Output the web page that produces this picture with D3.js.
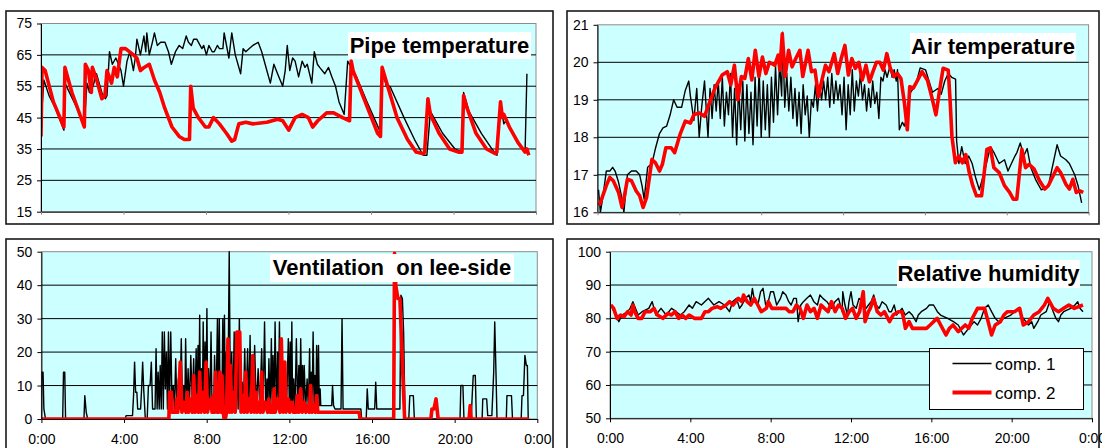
<!DOCTYPE html>
<html><head><meta charset="utf-8">
<script src="https://cdn.jsdelivr.net/npm/d3@7"></script>
<style>
html,body{margin:0;padding:0;background:#fff;}
svg{display:block;font-family:Arial,"Liberation Sans",sans-serif;}
</style></head>
<body><svg id="c" width="1102" height="448"></svg>
<script>
// ---------- data (hour of day, value) ----------
const hourTicks = [0,4,8,12,16,20,24];
const hourLabels = ["0:00","4:00","8:00","12:00","16:00","20:00","0:00"];
const pipeTicks = [15,25,35,45,55,65,75];
const airTicks = [16,17,18,19,20,21];
const ventTicks = [0,10,20,30,40,50];
const rhTicks = [50,60,70,80,90,100];
const seriesNames = ["comp. 1","comp. 2"];
const titles = ["Pipe temperature","Air temperature","Ventilation  on lee-side","Relative humidity"];

const pipeC1 = [[0.05,48],[0.14,57],[0.39,52],[0.7,48],[1.11,41],[1.16,56],[1.6,50],[2.1,43],[2.23,56],[2.35,53],[2.52,55],[2.69,59],[2.95,53],[3.12,51],[3.2,52],[3.32,66],[3.46,62],[3.63,64],[3.88,60],[4.0,55],[4.17,63],[4.31,66],[4.48,60],[4.57,64],[4.65,70],[4.82,65],[4.99,71],[5.08,66],[5.13,72],[5.25,65],[5.4,69],[5.5,72],[5.64,68],[5.8,69],[6.01,69],[6.18,66],[6.32,62],[6.52,66],[6.7,68],[6.87,67],[7.04,71],[7.15,69],[7.29,68],[7.4,70],[7.55,70],[7.8,67],[7.89,68],[8.02,65],[8.14,68],[8.3,66],[8.4,66],[8.55,68],[8.65,67],[8.82,67],[8.88,72],[9.11,64],[9.25,72],[9.42,65],[9.68,59],[9.8,67],[9.93,66],[10.1,67],[10.27,68],[10.53,69],[10.7,66],[10.95,60],[11.12,56],[11.29,62],[11.47,59],[11.72,55],[11.84,60],[11.94,68],[12.06,60],[12.2,64],[12.32,63],[12.49,58],[12.66,63],[12.8,61],[12.91,62],[13.13,56],[13.25,66],[13.4,62],[13.51,61],[13.76,59],[13.94,61],[14.1,58],[14.28,55],[14.45,50],[14.7,46],[14.87,63],[15.04,61],[15.3,58],[15.81,50],[16.41,41],[16.58,59],[16.75,55],[16.92,55],[17.6,45],[18.11,38],[18.53,33],[18.71,33],[18.88,47],[19.05,45],[19.47,40],[20.07,35],[20.41,34],[20.49,53],[20.75,47],[20.92,45],[21.35,40],[21.86,35],[22.11,33],[22.28,49],[22.44,43],[22.54,44],[22.88,40],[23.22,36],[23.47,34],[23.56,59]];

const pipeC2 = [[0,39],[0.05,61],[0.2,60],[0.6,50],[1.11,42],[1.16,61],[1.5,53],[2.1,42],[2.15,62],[2.3,60],[2.44,53],[2.49,61],[2.7,57],[2.95,51],[3.1,52],[3.2,60],[3.42,56],[3.55,61],[3.7,58],[3.88,67],[4.1,67],[4.48,65],[4.65,64],[4.82,60],[5.0,61],[5.25,62],[5.5,57],[5.76,53],[6.0,48],[6.35,42],[6.7,39],[6.95,38],[7.2,38],[7.26,55],[7.38,48],[7.63,45],[7.97,42],[8.14,42],[8.36,45],[8.65,43],[8.99,40],[9.25,37.5],[9.39,38],[9.59,43],[9.93,43.5],[10.27,43],[10.95,43.5],[11.47,44.5],[11.72,44],[12.01,41],[12.32,45],[12.66,46],[12.96,45],[13.17,42],[13.42,44],[13.85,46.5],[14.19,46.5],[14.62,45],[14.96,44],[15.04,63],[15.13,60],[15.72,50],[16.32,40],[16.46,39],[16.54,61],[17.26,45],[17.77,38],[18.19,34],[18.53,33.5],[18.6,34],[18.76,51],[18.88,46],[19.3,40],[19.81,35],[20.24,34],[20.41,34],[20.49,52],[20.66,48],[21.09,40],[21.6,35],[22.03,33.5],[22.1,34],[22.28,50],[22.37,45],[22.44,46],[22.71,42],[23.13,37],[23.47,34],[23.56,35],[23.65,33]];

const airC1 = [[0.05,16.6],[0.14,16.0],[0.26,16.4],[0.43,17.1],[0.6,17.1],[0.74,17.2],[0.86,17.1],[1.03,16.8],[1.2,16.35],[1.29,16.0],[1.46,17.0],[1.66,17.1],[1.89,17.1],[2.06,17.0],[2.18,16.7],[2.28,16.35],[2.45,17.2],[2.66,17.3],[2.83,17.7],[3.03,18.1],[3.2,18.25],[3.38,18.3],[3.55,18.6],[3.72,19.0],[3.89,18.8],[4.11,18.8],[4.29,19.25],[4.46,19.5],[4.54,19.1],[4.71,18.45],[4.85,19.3],[4.97,18.0],[5.09,18.8],[5.23,19.5],[5.4,18.0],[5.5,19.3],[5.6,18.5],[5.7,19.4],[5.8,18.7],[5.9,19.5],[6.0,18.5],[6.1,19.6],[6.2,18.3],[6.3,19.2],[6.4,18.6],[6.5,19.7],[6.6,18.0],[6.7,19.3],[6.8,17.8],[6.9,19.4],[7.0,18.2],[7.1,19.5],[7.2,17.9],[7.3,19.4],[7.4,18.1],[7.5,19.2],[7.6,17.8],[7.7,19.6],[7.8,18.3],[7.9,19.8],[8.0,18.0],[8.1,19.5],[8.2,18.2],[8.3,19.4],[8.4,18.0],[8.5,19.6],[8.6,18.4],[8.7,19.9],[8.8,18.6],[8.9,20.0],[9.0,19.1],[9.05,20.8],[9.15,18.8],[9.25,19.7],[9.35,18.7],[9.45,19.6],[9.55,18.5],[9.65,19.3],[9.75,18.3],[9.85,19.2],[9.95,18.1],[10.05,19.4],[10.15,18.6],[10.25,19.1],[10.35,18.0],[10.45,19.0],[10.55,18.8],[10.65,19.4],[10.75,18.7],[10.85,19.4],[10.95,19.0],[11.05,19.5],[11.15,19.0],[11.25,19.6],[11.35,18.8],[11.45,19.7],[11.55,18.9],[11.65,19.5],[11.75,19.0],[11.85,19.4],[11.95,18.6],[12.05,19.6],[12.15,18.2],[12.25,19.4],[12.35,18.6],[12.45,19.8],[12.55,18.7],[12.65,19.5],[12.75,19.1],[12.85,19.7],[12.95,19.0],[13.05,19.4],[13.15,18.7],[13.25,19.3],[13.35,18.8],[13.45,19.5],[13.55,18.9],[13.65,19.2],[13.75,18.5],[13.85,19.6],[13.95,19.5],[14.05,19.8],[14.15,19.6],[14.3,19.9],[14.4,19.6],[14.5,19.8],[14.6,19.5],[14.66,19.8],[14.75,18.2],[14.9,18.4],[15.0,18.3],[15.1,18.5],[15.3,19.2],[15.43,19.3],[15.6,19.5],[15.77,19.85],[16.03,19.8],[16.2,19.5],[16.37,19.2],[16.63,19.3],[16.8,19.15],[16.97,19.5],[17.14,19.7],[17.31,19.6],[17.5,19.55],[17.55,17.9],[17.66,17.3],[17.8,17.75],[17.97,17.3],[18.14,17.5],[18.31,17.3],[18.49,16.9],[18.66,16.6],[18.92,17.1],[19.2,17.75],[19.37,17.6],[19.63,17.3],[19.89,17.4],[20.06,17.1],[20.4,17.5],[20.5,17.6],[20.66,17.85],[20.83,17.5],[21.0,17.7],[21.17,17.2],[21.43,16.85],[21.69,16.6],[22.03,16.7],[22.46,17.8],[22.63,17.5],[22.89,17.4],[23.06,17.3],[23.32,17.0],[23.49,16.7],[23.66,16.25]];

const airC2 = [[0.09,16.18],[0.43,16.71],[0.6,16.93],[0.77,16.84],[1.03,16.53],[1.2,16.13],[1.29,16.35],[1.46,16.88],[1.66,16.84],[1.89,16.57],[2.06,16.44],[2.23,16.13],[2.4,16.4],[2.66,17.41],[2.83,17.32],[3.03,17.1],[3.17,17.28],[3.34,17.72],[3.6,17.72],[3.77,17.59],[4.03,18.07],[4.29,18.43],[4.54,18.38],[4.71,18.6],[4.97,18.65],[5.23,18.56],[5.4,18.82],[5.74,19.31],[6.09,19.66],[6.34,19.75],[6.51,19.4],[6.69,19.92],[6.86,19.0],[7.03,19.62],[7.2,19.57],[7.37,20.1],[7.54,19.53],[7.71,20.32],[7.89,19.62],[8.06,20.14],[8.23,19.7],[8.4,20.0],[8.66,19.92],[8.83,20.19],[8.91,19.79],[9.03,20.76],[9.17,19.62],[9.34,20.32],[9.51,19.88],[9.69,20.1],[9.89,20.32],[10.03,19.62],[10.29,20.32],[10.46,19.75],[10.63,19.79],[10.8,19.09],[10.97,19.53],[11.14,19.92],[11.31,19.75],[11.57,20.23],[11.74,19.7],[11.91,20.1],[12.09,20.45],[12.26,19.66],[12.43,20.1],[12.6,19.84],[12.77,20.0],[12.94,19.53],[13.12,19.92],[13.29,19.48],[13.46,19.75],[13.63,20.0],[13.8,20.0],[13.97,19.79],[14.14,20.23],[14.31,19.84],[14.49,19.62],[14.66,19.7],[14.83,19.57],[15.0,18.91],[15.14,18.2],[15.26,19.35],[15.43,19.31],[15.6,19.48],[15.86,19.75],[16.12,19.53],[16.37,19.0],[16.54,18.6],[16.72,19.26],[16.89,19.84],[17.14,19.79],[17.23,19.0],[17.32,18.03],[17.49,17.32],[17.66,17.5],[17.83,17.32],[18.0,17.54],[18.17,17.06],[18.34,16.71],[18.52,16.44],[18.77,16.44],[19.03,17.68],[19.2,17.72],[19.37,17.19],[19.63,17.06],[19.89,16.71],[20.14,16.53],[20.32,16.35],[20.49,16.35],[20.74,17.68],[20.92,17.19],[21.09,17.28],[21.34,17.15],[21.6,16.84],[21.86,16.62],[22.03,16.71],[22.46,17.19],[22.63,17.06],[22.89,16.75],[23.06,16.62],[23.23,16.88],[23.4,16.53],[23.57,16.57],[23.74,16.53]];

const ventC1 = [[0,0],[0.02,14],[0.08,14],[0.12,3],[0.2,0],[1.03,0],[1.07,14],[1.13,14],[1.17,0],[2.06,0],[2.1,7],[2.17,2],[2.24,0],[4.06,0],[4.1,1],[4.41,1],[4.46,7],[4.51,17],[4.56,8],[4.62,8],[4.66,3],[4.8,3],[4.85,9],[4.9,17],[4.95,9],[5.03,0],[5.12,0],[5.18,10],[5.26,10],[5.32,17],[5.38,3],[5.5,3],[5.55,21],[5.6,3],[5.65,14],[5.7,3],[5.75,16],[5.8,3],[5.85,26],[5.9,3],[5.95,26],[6.0,9],[6.05,20],[6.1,3],[6.15,26],[6.2,3],[6.26,26],[6.32,5],[6.38,10],[6.44,3],[6.5,18],[6.56,3],[6.63,12],[6.7,3],[6.77,24],[6.83,3],[6.89,10],[6.94,3],[6.98,24],[7.04,3],[7.1,15],[7.16,3],[7.23,19],[7.3,5],[7.37,18],[7.43,3],[7.49,21],[7.53,3],[7.58,22],[7.62,5],[7.66,31],[7.7,3],[7.75,15],[7.79,3],[7.83,29],[7.88,3],[7.92,23],[7.96,3],[8.01,33],[8.05,5],[8.09,15],[8.15,3],[8.21,26],[8.26,3],[8.31,5],[8.34,3],[8.38,19],[8.45,3],[8.52,30],[8.56,3],[8.61,30],[8.65,3],[8.69,10],[8.73,3],[8.78,30],[8.82,3],[8.86,31],[8.9,3],[8.95,20],[9.02,3],[9.09,50],[9.15,3],[9.21,20],[9.27,3],[9.33,26],[9.4,3],[9.46,21],[9.52,3],[9.58,30],[9.65,3],[9.72,11],[9.78,3],[9.84,21],[9.9,3],[9.98,21],[10.04,3],[10.1,25],[10.14,3],[10.18,14],[10.25,3],[10.32,22],[10.4,3],[10.49,15],[10.57,3],[10.66,21],[10.73,3],[10.8,29],[10.86,3],[10.92,12],[10.96,3],[11.01,18],[11.07,3],[11.13,24],[11.17,3],[11.21,19],[11.26,3],[11.31,29],[11.37,3],[11.43,20],[11.47,3],[11.52,29],[11.58,3],[11.64,22],[11.7,3],[11.78,14],[11.86,3],[11.95,24],[12.0,3],[12.04,23],[12.08,3],[12.12,29],[12.16,3],[12.21,12],[12.27,3],[12.34,24],[12.4,3],[12.46,16],[12.5,3],[12.55,24],[12.6,3],[12.64,16],[12.68,3],[12.72,16],[12.79,3],[12.86,12],[12.92,3],[12.98,21],[13.02,3],[13.06,14],[13.1,3],[13.15,26],[13.2,3],[13.24,13],[13.28,3],[13.32,22],[13.36,3],[13.41,22],[13.45,4],[13.49,9],[13.52,4],[14.05,4],[14.09,10],[14.14,4],[14.21,3],[14.5,3],[14.55,30],[14.6,3],[15.46,3],[15.5,0],[15.72,0],[15.77,9],[15.82,3],[16.13,3],[16.18,11],[16.23,3],[17.35,3],[17.4,37],[17.47,36],[17.53,26],[17.6,0],[17.78,0],[17.83,7],[18.0,7],[18.05,0],[20.26,0],[20.3,10],[20.4,10],[20.45,0],[20.8,0],[20.85,7],[20.9,13],[21.0,13],[21.05,0],[21.33,0],[21.36,6],[21.55,6],[21.6,1],[21.8,1],[21.89,14],[21.94,29],[22.0,14],[22.05,0],[22.5,0],[22.53,7],[22.75,7],[22.8,0],[23.22,0],[23.26,7],[23.33,7],[23.4,19],[23.47,16],[23.52,16],[23.56,0]];

const ventC2 = [[0,0],[6.17,0],[6.2,8],[6.29,8],[6.33,2],[6.5,2],[6.55,6],[6.6,2],[6.72,17],[6.8,2],[6.9,5],[7.0,2],[7.06,8],[7.12,2],[7.2,6],[7.3,2],[7.37,13],[7.44,2],[7.52,7],[7.6,2],[7.66,14],[7.72,2],[7.8,8],[7.9,2],[7.97,17],[8.04,2],[8.12,5],[8.2,6],[8.26,2],[8.32,7],[8.38,2],[8.43,14],[8.5,2],[8.58,2],[8.64,14],[8.7,2],[8.74,13],[8.8,2],[8.84,0],[8.9,0],[8.96,2],[9.03,24],[9.1,2],[9.15,16],[9.21,2],[9.3,8],[9.38,2],[9.46,26],[9.6,26],[9.66,2],[9.74,7],[9.82,2],[9.89,14],[9.96,2],[10.05,6],[10.15,2],[10.23,19],[10.3,2],[10.38,8],[10.45,2],[10.52,5],[10.6,2],[10.66,14],[10.72,2],[10.82,5],[10.95,2],[11.01,6],[11.08,2],[11.15,4],[11.2,2],[11.26,9],[11.32,2],[11.42,6],[11.55,2],[11.61,24],[11.7,2],[11.78,17],[11.84,2],[11.95,6],[12.02,2],[12.12,5],[12.2,2],[12.32,2],[12.38,7],[12.45,2],[12.55,9],[12.62,2],[12.72,5],[12.8,2],[12.88,4],[12.97,2],[13.03,10],[13.1,2],[13.2,4],[13.26,2],[13.32,7],[13.38,2],[15.38,2],[15.42,0],[17.05,0],[17.09,49.5],[17.15,40],[17.25,36],[17.35,36],[17.45,20],[17.58,0],[18.85,0],[18.9,3],[19.0,3],[19.1,6],[19.2,0],[20.7,0],[20.75,4],[20.8,0],[23.61,0]];

const rhC1 = [[0.04,84],[0.2,82],[0.35,80],[0.44,79],[0.6,81],[0.88,82],[1.0,83],[1.14,85],[1.4,81],[1.6,82],[1.93,83],[2.1,85],[2.28,81],[2.54,83],[2.8,81],[3.06,83],[3.3,82],[3.5,81],[3.7,82],[3.94,84],[4.1,83],[4.29,85],[4.55,84],[4.9,86],[5.17,84],[5.43,85],[5.7,84],[5.95,82],[6.1,85],[6.3,86],[6.45,83],[6.57,84],[6.75,86],[6.92,87],[7.0,85],[7.09,89],[7.2,85],[7.36,84],[7.5,88],[7.62,89],[7.75,84],[7.88,85],[8.0,88],[8.14,88],[8.3,84],[8.49,86],[8.6,88],[8.76,87],[8.9,85],[9.02,84],[9.15,86],[9.28,86],[9.37,79],[9.5,84],[9.63,85],[9.8,86],[9.98,87],[10.15,85],[10.33,84],[10.45,87],[10.6,86],[10.8,85],[11.03,83],[11.2,85],[11.38,86],[11.56,82],[11.59,88],[11.7,84],[11.82,81],[11.9,85],[12.0,88],[12.1,84],[12.26,83],[12.4,86],[12.61,85],[12.75,83],[12.87,84],[13.0,85],[13.13,87],[13.25,84],[13.4,83],[13.55,85],[13.75,84],[13.9,82],[14.01,82],[14.15,84],[14.27,81],[14.4,82],[14.54,83],[14.7,81],[14.89,82],[15.05,81],[15.24,79],[15.35,81],[15.5,82],[15.76,83],[15.9,84],[16.11,84],[16.3,82],[16.46,81],[16.81,80],[17.1,79],[17.34,78],[17.6,75],[17.86,77],[18.13,79],[18.3,78],[18.48,80],[18.65,83],[18.83,84],[19.0,82],[19.18,80],[19.35,79],[19.61,80],[19.96,81],[20.15,82],[20.32,83],[20.45,81],[20.58,80],[20.84,78],[21.0,79],[21.1,77],[21.3,79],[21.45,81],[21.72,82],[21.89,85],[22.07,82],[22.2,80],[22.33,79],[22.45,81],[22.59,82],[22.94,83],[23.15,84],[23.29,85],[23.4,83],[23.55,82]];

const rhC2 = [[0.04,84],[0.18,83],[0.35,80],[0.53,81],[0.7,80.5],[0.88,82],[1.05,81],[1.14,84],[1.23,82],[1.4,80],[1.58,80],[1.75,82],[2.01,82],[2.19,83],[2.36,81],[2.63,80],[2.89,81.5],[3.06,81],[3.24,82],[3.42,80],[3.59,81],[3.77,80],[3.94,81],[4.2,80],[4.55,80],[4.73,82],[4.9,82],[5.08,83],[5.34,83.5],[5.52,83],[5.78,84],[5.95,85],[6.13,84],[6.39,86],[6.57,85],[6.65,87],[6.83,85],[7.01,84],[7.18,86],[7.36,84],[7.53,82],[7.79,83],[7.88,85],[8.06,83],[8.41,83],[8.76,83],[8.93,82],[9.11,82],[9.28,84],[9.46,83],[9.63,80],[9.81,84],[9.98,82],[10.16,83],[10.33,80],[10.51,84],[10.68,83],[10.86,82],[11.03,85],[11.21,82],[11.38,84],[11.56,83],[11.73,80],[11.91,82],[12.08,83],[12.26,80],[12.43,82],[12.61,88],[12.7,79],[12.87,82],[12.96,83],[13.13,86],[13.31,82],[13.49,81],[13.66,82],[13.92,79],[14.1,81],[14.36,82],[14.54,82],[14.62,80],[14.71,77],[14.89,79],[15.06,77],[15.41,77],[15.76,77],[15.94,78],[16.11,79],[16.29,80],[16.73,75],[16.9,77],[17.08,78],[17.34,76],[17.69,78],[17.86,77],[18.04,80],[18.3,83],[18.65,83],[18.83,79],[19.0,75],[19.18,78],[19.44,79],[19.61,81],[19.79,82],[20.14,82],[20.4,83],[20.58,78],[20.84,79],[21.1,81],[21.37,82],[21.63,84],[21.8,86],[22.07,83],[22.33,82],[22.59,83],[22.85,84],[23.12,83],[23.55,84]];

// ---------- layout ----------
const panels = [
  {frame:[6,11,547,213], plot:[41,536,23.5,211.7], dom:[15,75], ticks:pipeTicks, c1:pipeC1, c2:pipeC2, title:titles[0], tbox:[348,32,183,27], xlab:false},
  {frame:[567,11,532,213], plot:[597.5,1088.6,24.8,212.3], dom:[16,21], ticks:airTicks, c1:airC1, c2:airC2, title:titles[1], tbox:[910,33,166,28], xlab:false},
  {frame:[6,239,547,220], plot:[41.4,537.3,251.7,419], dom:[0,50], ticks:ventTicks, c1:ventC1, c2:ventC2, title:titles[2], tbox:[270,254,244,28], xlab:true},
  {frame:[567,239,532,220], plot:[610,1092,251.7,418.3], dom:[50,100], ticks:rhTicks, c1:rhC1, c2:rhC2, title:titles[3], tbox:[897,260,183,28], xlab:true, legend:true}
];

const svg = d3.select("#c");
const defs = svg.append("defs");

panels.forEach((p,i)=>{
  const [fx,fy,fw,fh] = p.frame;
  const [x0,x1,y0,y1] = p.plot;
  const g = svg.append("g");
  g.append("rect").attr("x",fx).attr("y",fy).attr("width",fw).attr("height",fh)
    .attr("fill","#fff").attr("stroke","#1a1a1a").attr("stroke-width",1.6);
  const x = d3.scaleLinear().domain([0,24]).range([x0,x1]);
  const y = d3.scaleLinear().domain(p.dom).range([y1,y0]);
  // plot area
  g.append("rect").attr("x",x0).attr("y",y0).attr("width",x1-x0).attr("height",y1-y0)
    .attr("fill","#ccffff").attr("stroke","#8c8c8c").attr("stroke-width",1);
  // gridlines
  g.selectAll(".grid").data(p.ticks.slice(1,-1)).join("line")
    .attr("x1",x0).attr("x2",x1).attr("y1",d=>y(d)).attr("y2",d=>y(d))
    .attr("stroke","#000").attr("stroke-width",1);
  // series
  const cid = "clip"+i;
  defs.append("clipPath").attr("id",cid).append("rect")
    .attr("x",x0).attr("y",y0-2).attr("width",x1-x0).attr("height",y1-y0+2);
  const line = d3.line().x(d=>x(d[0])).y(d=>y(d[1]));
  const sg = g.append("g").attr("clip-path",`url(#${cid})`);
  sg.append("path").datum(p.c1).attr("d",line).attr("fill","none")
    .attr("stroke","#000").attr("stroke-width",1.4).attr("stroke-linejoin","round");
  sg.append("path").datum(p.c2).attr("d",line).attr("fill","none")
    .attr("stroke","#ff0000").attr("stroke-width",3.6).attr("stroke-linejoin","round");
  // axes
  const ya = g.append("g").attr("transform",`translate(${x0},0)`)
    .call(d3.axisLeft(y).tickValues(p.ticks).tickSize(4).tickSizeOuter(0).tickFormat(d3.format("d")));
  ya.select(".domain").attr("stroke","#000");
  ya.selectAll("text").attr("font-size",14).attr("fill","#000").attr("x",-9).attr("font-family",'Arial,"Liberation Sans",sans-serif');
  const xa = g.append("g").attr("transform",`translate(0,${y1})`)
    .call(d3.axisBottom(x).tickValues(hourTicks).tickSize(p.xlab?4:3).tickSizeOuter(0)
      .tickFormat((d,k)=>hourLabels[k]));
  xa.select(".domain").attr("stroke","#000");
  xa.selectAll(".tick line").attr("stroke", p.xlab?"#000":"#888");
  if(p.xlab){
    xa.selectAll("text").attr("font-size",14).attr("fill","#000").attr("y",15).attr("dy","0.71em").attr("font-family",'Arial,"Liberation Sans",sans-serif');
  } else {
    xa.selectAll("text").remove();
  }
  // title
  const [tx,ty,tw,th] = p.tbox;
  g.append("rect").attr("x",tx).attr("y",ty).attr("width",tw).attr("height",th).attr("fill","#fff");
  g.append("text").attr("x",tx+tw/2).attr("y",ty+21).attr("text-anchor","middle")
    .attr("font-size",22).attr("font-weight","bold").attr("fill","#000")
    .style("white-space","pre").text(p.title);
  if(p.legend){
    const lg = g.append("g");
    lg.append("rect").attr("x",929.5).attr("y",348.5).attr("width",154).attr("height",61)
      .attr("fill","#fff").attr("stroke","#000").attr("stroke-width",1);
    const rows = [{c:"#000",w:1.4,yy:363.5},{c:"#ff0000",w:4,yy:392.5}];
    rows.forEach((r,k)=>{
      lg.append("line").attr("x1",952.5).attr("x2",991.5).attr("y1",r.yy).attr("y2",r.yy)
        .attr("stroke",r.c).attr("stroke-width",r.w);
      lg.append("text").attr("x",995).attr("y",r.yy+6).attr("font-size",17).attr("fill","#000").text(seriesNames[k]);
    });
  }
});
</script>
</body></html>
